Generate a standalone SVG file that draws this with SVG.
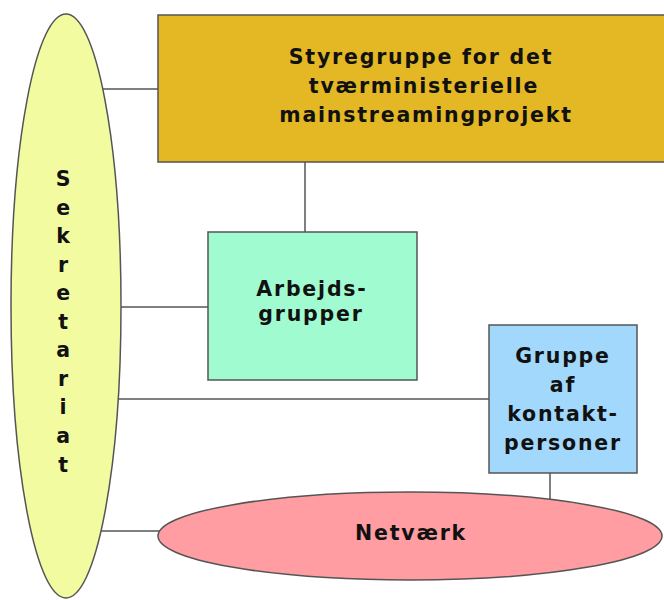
<svg xmlns="http://www.w3.org/2000/svg" width="664" height="600" viewBox="0 0 664 600">
<style>
.n{stroke:#555;stroke-width:1.5}
.c{stroke:#555;stroke-width:1.5;fill:none}
text{font-family:"DejaVu Sans","Liberation Sans",sans-serif;font-weight:bold;font-size:20.5px;fill:#111;text-anchor:middle;letter-spacing:1.8px}
</style>
<rect width="664" height="600" fill="#fff"/>
<g id="connectors">
<line class="c" x1="90" y1="89" x2="158" y2="89"/>
<line class="c" x1="90" y1="307" x2="208" y2="307"/>
<line class="c" x1="90" y1="399" x2="489" y2="399"/>
<line class="c" x1="90" y1="531" x2="160" y2="531"/>
<line class="c" x1="305" y1="162" x2="305" y2="232"/>
<line class="c" x1="550" y1="473" x2="550" y2="505"/>
</g>
<g id="sekretariat">
<ellipse class="n" cx="66" cy="306" rx="55" ry="292" fill="#F2FBA0"/>
<text x="64" y="186">S</text>
<text x="64" y="215">e</text>
<text x="64" y="243">k</text>
<text x="64" y="272">r</text>
<text x="64" y="300">e</text>
<text x="64" y="329">t</text>
<text x="64" y="357">a</text>
<text x="64" y="386">r</text>
<text x="64" y="414">i</text>
<text x="64" y="443">a</text>
<text x="64" y="472">t</text>
</g>
<g id="styregruppe">
<rect class="n" x="158" y="15" width="510" height="147" fill="#E3B824"/>
<text x="421" y="64">Styregruppe for det</text>
<text x="424" y="93">tværministerielle</text>
<text x="426" y="122">mainstreamingprojekt</text>
</g>
<g id="arbejdsgrupper">
<rect class="n" x="208" y="232" width="209" height="148" fill="#A0FCD0"/>
<text x="312" y="296">Arbejds-</text>
<text x="311" y="321">grupper</text>
</g>
<g id="kontaktpersoner">
<rect class="n" x="489" y="325" width="148" height="148" fill="#A2D8FC"/>
<text x="563" y="363">Gruppe</text>
<text x="563" y="392">af</text>
<text x="563" y="421">kontakt-</text>
<text x="563" y="450">personer</text>
</g>
<g id="netvaerk">
<ellipse class="n" cx="410" cy="536" rx="252" ry="44" fill="#FF9DA2"/>
<text x="411" y="540">Netværk</text>
</g>
</svg>
